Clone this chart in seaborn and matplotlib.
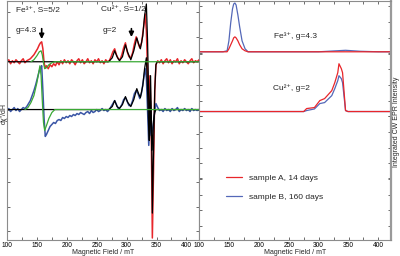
import numpy as np
import pandas as pd
import seaborn as sns
import matplotlib.pyplot as plt

sns.set_style("ticks")
plt.rcParams['font.family'] = ['Liberation Sans Narrow', 'Liberation Sans', 'DejaVu Sans']

# ---- left panel: first-derivative spectra (arb. units, offset) ----
field_a = [100, 103, 106, 109, 112, 115, 118, 121, 124, 127, 130, 133, 136, 139, 142, 145, 148, 151, 154, 156,
           158, 160, 162, 164, 166, 169, 172, 175, 178, 181, 184, 187, 190, 193, 196, 199, 202, 205, 208, 211,
           214, 217, 220, 223, 226, 229, 232, 235, 238, 241, 244, 247, 250, 253, 256, 259, 262, 265, 268, 271,
           274, 277, 280, 283, 286, 289, 292, 295, 298, 301, 304, 307, 310, 313, 316, 319, 322, 325, 328, 331,
           333, 335, 337, 339, 341, 343, 345, 347, 349, 352, 355, 358, 361, 364, 367, 370, 373, 376, 379, 382,
           385, 388, 391, 394, 397, 400, 403, 406, 409, 412, 415, 418, 421]
sample_a = [179, 181, 177, 180, 178, 181, 179, 177, 180, 182, 178, 180, 181, 182, 184, 186, 189, 192, 196, 198,
            199, 192, 178, 173, 175, 172, 176, 174, 177, 175, 179, 176, 180, 177, 181, 178, 180, 177, 181, 179,
            176, 180, 182, 178, 181, 177, 179, 182, 178, 180, 177, 181, 179, 182, 178, 180, 177, 181, 179, 180,
            184, 189, 192, 186, 182, 181, 186, 193, 198, 189, 184, 183, 188, 197, 204, 198, 193, 198, 212, 227,
            210, 170, 130, 165, 120, 2, 70, 150, 176, 180, 178, 181, 177, 180, 182, 178, 181, 177, 180, 179,
            182, 177, 180, 178, 181, 179, 177, 180, 182, 178, 180, 179, 181]

field_b = field_a
sample_b = [130, 132, 129, 131, 133, 130, 132, 129, 131, 133, 132, 134, 137, 140, 145, 150, 156, 163, 170, 173,
            175, 150, 122, 104, 106, 110, 114, 116, 118, 117, 120, 121, 120, 123, 122, 124, 123, 125, 124, 126,
            125, 127, 126, 128, 127, 126, 128, 129, 127, 130, 128, 129, 131, 129, 130, 132, 130, 131, 129, 131,
            134, 137, 140, 136, 132, 133, 136, 141, 143, 139, 135, 135, 140, 147, 150, 147, 142, 148, 160, 172,
            163, 130, 95, 120, 105, 110, 118, 130, 137, 133, 130, 131, 129, 132, 130, 131, 129, 132, 130, 131,
            133, 129, 131, 130, 132, 130, 131, 129, 132, 130, 131, 130, 131]

# simulations: Cu2+ (black) and Fe3+ (green)
sim_cu_field = [100, 270, 276, 280, 284, 288, 293, 298, 302, 307, 312, 317, 320, 323, 327, 330, 333, 335, 337, 338,
                340, 342, 343, 345, 347, 349, 351, 421]
sim_cu_a = [179, 179, 183, 190, 184, 180, 184, 196, 188, 181, 190, 203, 197, 192, 205, 225, 237, 200, 140, 100,
            165, 100, 27, 90, 150, 176, 179, 179]
sim_cu_b = [131, 131, 134, 140, 134, 132, 136, 144, 138, 134, 141, 152, 147, 143, 155, 172, 183, 150, 110, 100,
            140, 90, 100, 120, 128, 131, 131, 131]

sim_fe_field_a = [140, 145, 150, 154, 157, 159, 161, 163, 166, 170, 175, 180, 421]
sim_fe_a = [179, 181, 185, 189, 190, 186, 178, 172, 173, 176, 178, 179, 179]
sim_fe_field_b = [130, 135, 140, 145, 150, 153, 155, 157, 159, 161, 163, 166, 170, 175, 180, 421]
sim_fe_b = [131, 133, 138, 145, 158, 168, 175, 165, 140, 118, 110, 115, 122, 128, 131, 131]

# ---- right panel: integrated intensity ----
int_fe_field = [100, 140, 147, 150, 153, 156, 158, 160, 162, 165, 168, 172, 177, 182, 190, 300, 330, 345, 370, 400, 421]
int_fe_a = [189, 189, 189, 192, 196, 200, 203, 204, 203, 200, 196, 192, 190, 189, 189, 189, 189, 189, 189, 189, 189]
int_fe_b = [189, 189, 190, 200, 218, 232, 237, 238, 236, 226, 214, 200, 192, 189, 189, 189, 190, 190.5, 189.5, 189, 189]

int_cu_field = [100, 270, 275, 280, 293, 302, 310, 322, 327, 332, 334, 338, 340, 342, 345, 349, 421]
int_cu_a = [129, 129, 129, 132, 133, 140, 142, 150, 158, 168, 177, 172, 168, 153, 130, 129, 129]
int_cu_b = [129, 129, 129, 130, 131.6, 137, 138, 145, 152, 160, 165, 162, 158, 147, 130, 129, 129]

red = '#e8262b'
blue = '#3b56a6'
green = '#3aa935'
gray = '#8c8c8c'

fig = plt.figure(figsize=(4, 2.56), dpi=100)
ax1 = fig.add_axes([7 / 400, 1 - 240 / 256, 192 / 400, 239 / 256])
ax2 = fig.add_axes([199 / 400, 1 - 240 / 256, 192 / 400, 239 / 256])

sns.lineplot(x=field_a, y=sample_a, ax=ax1, color=red, lw=1.1, sort=False, estimator=None)
sns.lineplot(x=field_b, y=sample_b, ax=ax1, color=blue, lw=1.1, sort=False, estimator=None)
sns.lineplot(x=sim_cu_field, y=sim_cu_a, ax=ax1, color='black', lw=0.9, sort=False, estimator=None)
sns.lineplot(x=sim_cu_field, y=sim_cu_b, ax=ax1, color='black', lw=0.9, sort=False, estimator=None)
sns.lineplot(x=sim_fe_field_a, y=sim_fe_a, ax=ax1, color=green, lw=0.9, sort=False, estimator=None)
sns.lineplot(x=sim_fe_field_b, y=sim_fe_b, ax=ax1, color=green, lw=0.9, sort=False, estimator=None)

sns.lineplot(x=int_fe_field, y=int_fe_b, ax=ax2, color='#5468b8', lw=0.9, sort=False, estimator=None,
             label='sample B, 160 days')
sns.lineplot(x=int_fe_field, y=int_fe_a, ax=ax2, color=red, lw=0.9, sort=False, estimator=None,
             label='sample A, 14 days')
sns.lineplot(x=int_cu_field, y=int_cu_b, ax=ax2, color='#5468b8', lw=0.9, sort=False, estimator=None)
sns.lineplot(x=int_cu_field, y=int_cu_a, ax=ax2, color=red, lw=0.9, sort=False, estimator=None)

for ax in (ax1, ax2):
    ax.set_xlim(100, 421)
    ax.set_ylim(0, 240)
    ax.set_xticks(np.arange(100, 401, 50))
    ax.set_xticks(np.arange(125, 421, 50), minor=True)
    ax.set_yticklabels([])
    ax.tick_params(which='both', direction='in', top=True, right=True, length=2.2, width=0.6,
                   colors='#555555', labelsize=4.8, pad=1.5, labelcolor='black')
    for s in ax.spines.values():
        s.set_color(gray)
        s.set_linewidth(0.8)
    ax.set_xlabel('Magnetic Field / mT', fontsize=5, labelpad=0)

ax1.set_yticks(np.arange(9, 240, 24.4))
ax1.set_yticklabels([])
ax2.set_yticks([62, 125, 188])
ax2.set_yticks(np.arange(14, 240, 15.75), minor=True)
ax2.set_yticklabels([])
ax2.spines['right'].set_linewidth(1.6)
ax2.spines['right'].set_color('#9a9a9a')

# annotations
ax1.text(115, 230, 'Fe³⁺, S=5/2', fontsize=6, va='center')
ax1.text(115, 210, 'g=4.3', fontsize=6, va='center')
ax1.text(257, 231, 'Cu²⁺, S=1/2', fontsize=6, va='center')
ax1.text(260, 210, 'g=2', fontsize=6, va='center')
ax1.annotate('', xy=(158, 199), xytext=(158, 215),
             arrowprops=dict(arrowstyle='-|>', color='black', lw=1.2, mutation_scale=7))
ax1.annotate('', xy=(308, 201), xytext=(308, 215),
             arrowprops=dict(arrowstyle='-|>', color='black', lw=1.2, mutation_scale=7))

ax2.text(225, 205, 'Fe³⁺, g=4.3', fontsize=6, va='center')
ax2.text(223, 153, 'Cu²⁺, g=2', fontsize=6, va='center')

handles, labels = ax2.get_legend_handles_labels()
ax2.legend(handles[::-1], labels[::-1], loc='center left', bbox_to_anchor=(0.1, 0.22), frameon=False,
           fontsize=6, handlelength=2.0, labelspacing=1.3, handletextpad=0.8)

fig.text(4.5 / 400, 1 - 113 / 256, "dχ''/dH", rotation=90, fontsize=5, ha='center', va='center')
fig.text(397 / 400, 1 - 122 / 256, 'Integrated CW EPR Intensity', rotation=90, fontsize=5,
         ha='center', va='center')

fig.savefig('out.png', dpi=100)
